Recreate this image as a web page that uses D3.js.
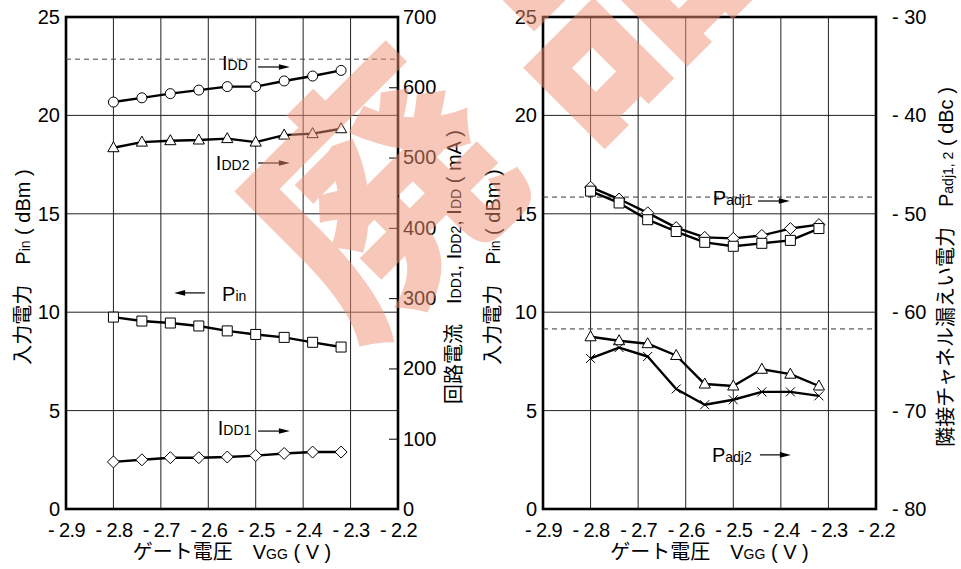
<!DOCTYPE html>
<html>
<head>
<meta charset="utf-8">
<script src="https://cdn.jsdelivr.net/npm/d3@7"></script>
<style>
	body{margin:0;background:#ffffff;}
	svg{display:block;font-family:"Liberation Sans",Arial,"Noto Sans CJK JP",sans-serif;}
</style>
</head>
<body>
<script>
//gate voltage steps shared by every series
var vgg = [-2.80, -2.74, -2.68, -2.62, -2.56, -2.50, -2.44, -2.38, -2.32];

//left panel series
var idd = [579, 585, 591, 596, 601, 601, 609, 616, 624];   //mA, circles
var idd2 = [514, 522, 524, 525, 527, 522, 532, 534, 541];  //mA, triangles
var idd1 = [67, 70, 73, 73, 74, 76, 79, 81, 81];           //mA, diamonds
var pin = [9.75, 9.55, 9.45, 9.30, 9.05, 8.87, 8.72, 8.47, 8.23]; //dBm, squares

//right panel series (dBc)
var padj1A = [-47.3, -48.5, -49.9, -51.4, -52.4, -52.5, -52.2, -51.5, -51.1]; //diamonds
var padj1B = [-47.7, -48.9, -50.6, -51.8, -52.9, -53.3, -53.0, -52.7, -51.5]; //squares
var padj2A = [-62.5, -62.9, -63.2, -64.4, -67.3, -67.5, -65.8, -66.3, -67.5]; //triangles
var padj2B = [-64.7, -63.6, -64.5, -67.8, -69.4, -68.9, -68.1, -68.1, -68.5]; //crosses

//dashed reference levels
var iddRef = [640];
var padjRef = [-48.3, -61.7];

//tick labels
var xTicks = [-2.9, -2.8, -2.7, -2.6, -2.5, -2.4, -2.3, -2.2];
var pinTicks = [0, 5, 10, 15, 20, 25];
var iddTicks = [0, 100, 200, 300, 400, 500, 600, 700];
var dbcTicks = [-80, -70, -60, -50, -40, -30];

window.onload = function(){

	var w = 961, h = 569;
	var top = 17, bottom = 509;

	var container = d3.select("body")
		.append("svg")
		.attr("width", w)
		.attr("height", h)
		.attr("class", "container");

	//scales for both panels
	var x1 = d3.scaleLinear().domain([-2.9, -2.2]).range([66, 398]);
	var x2 = d3.scaleLinear().domain([-2.9, -2.2]).range([543, 876]);
	var yPin1 = d3.scaleLinear().domain([0, 25]).range([bottom, top]);
	var yPin2 = d3.scaleLinear().domain([0, 25]).range([bottom, top]);
	var yIdd = d3.scaleLinear().domain([0, 700]).range([bottom, top]);
	var yDbc = d3.scaleLinear().domain([-80, -30]).range([bottom, top]);

	var negFormat = function(d){ return d < 0 ? "- " + d3.format("")(Math.abs(d)) : d; };
	var negFormatX = function(d){ return "- " + Math.abs(d).toFixed(1); };

	//marker shapes
	var shapes = {
		circle: "M5,0A5,5 0 1,1 -5,0A5,5 0 1,1 5,0Z",
		square: "M-5,-5H5V5H-5Z",
		triangle: "M0,-6L5.6,4L-5.6,4Z",
		diamond: "M0,-6L6,0L0,6L-6,0Z",
		cross: "M-4.5,-4.5L4.5,4.5M-4.5,4.5L4.5,-4.5"
	};

	//write a label made of normal and small (subscript-like) parts
	function rich(sel, parts){
		parts.forEach(function(p){
			sel.append("tspan")
				.text(p[0])
				.style("font-size", p[1] ? "14px" : null);
		});
		return sel;
	}

	//grid, frame and axes for one panel
	function frame(x, yLeft, yRight, rightTicks, rightFmt, rightInner, rightPad){
		var grid = container.append("g").attr("class", "grid");
		grid.selectAll(".vgrid")
			.data(xTicks.slice(1, -1))
			.enter()
			.append("line")
			.attr("x1", function(d){ return x(d); })
			.attr("x2", function(d){ return x(d); })
			.attr("y1", top)
			.attr("y2", bottom)
			.style("stroke", "#222")
			.style("stroke-width", 1);
		grid.selectAll(".hgrid")
			.data(pinTicks.slice(1, -1))
			.enter()
			.append("line")
			.attr("x1", x.range()[0])
			.attr("x2", x.range()[1])
			.attr("y1", function(d){ return yLeft(d); })
			.attr("y2", function(d){ return yLeft(d); })
			.style("stroke", "#222")
			.style("stroke-width", 1);

		var xAxis = d3.axisBottom(x).tickValues(xTicks).tickSize(0).tickPadding(14).tickFormat(negFormatX);
		var leftAxis = d3.axisLeft(yLeft).tickValues(pinTicks).tickSize(0).tickPadding(6);
		var rightAxis = d3.axisRight(yRight).tickValues(rightTicks).tickSizeInner(rightInner).tickSizeOuter(0)
			.tickPadding(rightPad).tickFormat(rightFmt);

		[[xAxis, "translate(0," + bottom + ")", -0.6], [leftAxis, "translate(" + x.range()[0] + ",0)", 0],
			[rightAxis, "translate(" + x.range()[1] + ",0)", 0]].forEach(function(a){
			var g = container.append("g")
				.attr("class", "axis")
				.attr("transform", a[1])
				.call(a[0]);
			g.attr("font-size", 20).attr("font-family", null);
			g.select(".domain").remove();
			g.selectAll(".tick line").style("stroke", "#000").style("stroke-width", 1);
			g.selectAll("text").style("letter-spacing", a[2] + "px");
		});

		container.append("rect")
			.attr("x", x.range()[0])
			.attr("y", top)
			.attr("width", x.range()[1] - x.range()[0])
			.attr("height", bottom - top)
			.style("fill", "none")
			.style("stroke", "#000")
			.style("stroke-width", 2.6);
	}

	frame(x1, yPin1, yIdd, iddTicks, function(d){ return d; }, -9, 5);
	frame(x2, yPin2, yDbc, dbcTicks, negFormat, 0, 16);

	//dashed reference levels
	container.selectAll(".ref1")
		.data(iddRef)
		.enter()
		.append("line")
		.attr("x1", x1.range()[0]).attr("x2", x1.range()[1])
		.attr("y1", function(d){ return yIdd(d); })
		.attr("y2", function(d){ return yIdd(d); })
		.style("stroke", "#444").style("stroke-width", 1).style("stroke-dasharray", "5,4");
	container.selectAll(".ref2")
		.data(padjRef)
		.enter()
		.append("line")
		.attr("x1", x2.range()[0]).attr("x2", x2.range()[1])
		.attr("y1", function(d){ return yDbc(d); })
		.attr("y2", function(d){ return yDbc(d); })
		.style("stroke", "#333").style("stroke-width", 1).style("stroke-dasharray", "5,4");

	//series lines then markers
	var series = [
		{vals: idd, x: x1, y: yIdd, shape: "circle"},
		{vals: idd2, x: x1, y: yIdd, shape: "triangle"},
		{vals: pin, x: x1, y: yPin1, shape: "square"},
		{vals: idd1, x: x1, y: yIdd, shape: "diamond"},
		{vals: padj1A, x: x2, y: yDbc, shape: "diamond"},
		{vals: padj1B, x: x2, y: yDbc, shape: "square"},
		{vals: padj2A, x: x2, y: yDbc, shape: "triangle"},
		{vals: padj2B, x: x2, y: yDbc, shape: "cross"}
	];

	series.forEach(function(s){
		var line = d3.line()
			.x(function(d, i){ return s.x(vgg[i]); })
			.y(function(d){ return s.y(d); });
		container.append("path")
			.datum(s.vals)
			.attr("d", line)
			.style("fill", "none")
			.style("stroke", "#000")
			.style("stroke-width", 2.4)
			.style("stroke-linejoin", "round");
	});

	series.forEach(function(s){
		container.selectAll(".m-" + s.shape + s.x.range()[0])
			.data(s.vals)
			.enter()
			.append("path")
			.attr("d", shapes[s.shape])
			.attr("transform", function(d, i){ return "translate(" + s.x(vgg[i]) + "," + s.y(d) + ")"; })
			.style("fill", s.shape == "cross" ? "none" : "#fff")
			.style("stroke", "#000")
			.style("stroke-width", 1);
	});

	//series annotations: text position and arrow (x from, x to, y) in data units
	var notes = [
		{x: x1, y: yPin1, tx: -2.571, ty: 22.31, parts: [["I"], ["DD", 1]], a: [-2.495, -2.428, 22.46]},
		{x: x1, y: yPin1, tx: -2.584, ty: 17.23, parts: [["I"], ["DD2", 1]], a: [-2.495, -2.428, 17.58]},
		{x: x1, y: yPin1, tx: -2.571, ty: 10.58, parts: [["P"], ["in", 1]], a: [-2.607, -2.672, 10.98]},
		{x: x1, y: yPin1, tx: -2.580, ty: 3.76, parts: [["I"], ["DD1", 1]], a: [-2.495, -2.428, 3.96]},
		{x: x2, y: yDbc, tx: -2.543, ty: -49.1, parts: [["P"], ["adj1", 1]], a: [-2.448, -2.381, -48.7]},
		{x: x2, y: yDbc, tx: -2.545, ty: -75.2, parts: [["P"], ["adj2", 1]], a: [-2.444, -2.379, -74.5]}
	];

	notes.forEach(function(n){
		rich(container.append("text")
			.attr("x", n.x(n.tx))
			.attr("y", n.y(n.ty))
			.style("font-size", "20px"), n.parts);
		var x0 = n.x(n.a[0]), xe = n.x(n.a[1]), ya = n.y(n.a[2]);
		var dir = xe > x0 ? 1 : -1;
		container.append("line")
			.attr("x1", x0).attr("x2", xe - dir * 8)
			.attr("y1", ya).attr("y2", ya)
			.style("stroke", "#000").style("stroke-width", 1.2);
		container.append("path")
			.attr("d", "M" + xe + "," + ya + "l" + (-dir * 11) + ",-2.8v5.6Z")
			.style("fill", "#000");
	});

	//axis titles
	[232, 709.5].forEach(function(cx){
		rich(container.append("text")
			.attr("x", cx)
			.attr("y", 559)
			.attr("text-anchor", "middle")
			.style("font-size", "20px"),
			[["ゲート電圧　V"], ["GG", 1], [" ( V )"]]);
	});

	var vTitles = [
		{x: 23, parts: [["入力電力　P"], ["in", 1], [" ( dBm )"]]},
		{x: 454, parts: [["回路電流　I"], ["DD1", 1], [", I"], ["DD2", 1], [", I"], ["DD", 1], [" ( mA )"]]},
		{x: 493, parts: [["入力電力　P"], ["in", 1], [" ( dBm )"]]},
		{x: 946, parts: [["隣接チャネル漏えい電力　P"], ["adj1, 2", 1], [" ( dBc )"]]}
	];
	vTitles.forEach(function(t){
		rich(container.append("text")
			.attr("transform", "translate(" + t.x + ",267) rotate(-90)")
			.attr("text-anchor", "middle")
			.attr("dy", "0.35em")
			.style("font-size", "20px"), t.parts);
	});

	//stamp overlay
	var stamp = container.append("g").attr("class", "stamp");
	[["廃", 368, 182], ["品", 588, -22]].forEach(function(c){
		stamp.append("text")
			.attr("transform", "translate(" + c[1] + "," + c[2] + ") rotate(-45)")
			.attr("text-anchor", "middle")
			.attr("dominant-baseline", "central")
			.style("font-family", "'Noto Sans CJK JP'")
			.style("font-weight", 900)
			.style("font-size", "250px")
			.style("fill", "rgb(240,145,115)")
			.style("fill-opacity", 0.5)
			.text(c[0]);
	});
};
</script>
</body>
</html>
